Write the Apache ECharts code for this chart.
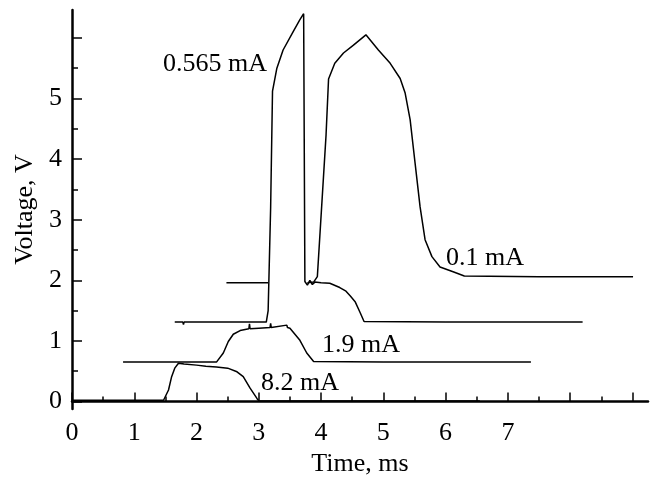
<!DOCTYPE html>
<html>
<head>
<meta charset="UTF-8">
<title>Voltage vs time</title>
<script src="https://cdn.jsdelivr.net/npm/echarts@6/dist/echarts.min.js"></script>
<style>
  html,body{margin:0;padding:0;background:#fff;}
  #main{width:650px;height:477px;}
</style>
</head>
<body>
<div id="main"></div>
<script>
// traces: time (ms) and voltage (V)
var t82 = [0, 0.03, 0.05, 0.6, 1.0, 1.47, 1.55, 1.6, 1.65, 1.71, 1.8, 2.0, 2.15, 2.32, 2.5, 2.65, 2.75, 2.86, 2.97, 3.0, 4.0, 5.0, 6.55];
var v82 = [0.02, 0.05, 0.02, 0.02, 0.02, 0.02, 0.19, 0.41, 0.55, 0.63, 0.62, 0.6, 0.58, 0.57, 0.55, 0.49, 0.41, 0.22, 0.05, 0.01, 0.01, 0.01, 0.01];

var t19 = [0.82, 1.5, 2.0, 2.32, 2.43, 2.51, 2.59, 2.7, 2.84, 2.85, 2.86, 3.0, 3.18, 3.19, 3.2, 3.45, 3.46, 3.5, 3.66, 3.77, 3.88, 5.0, 6.0, 7.37];
var v19 = [0.65, 0.65, 0.65, 0.65, 0.8, 0.99, 1.11, 1.17, 1.2, 1.28, 1.2, 1.21, 1.22, 1.29, 1.22, 1.26, 1.22, 1.21, 1.01, 0.8, 0.66, 0.65, 0.65, 0.65];

var t0565 = [1.65, 1.78, 1.79, 1.8, 3.12, 3.15, 3.19, 3.22, 3.29, 3.39, 3.55, 3.66, 3.72, 3.73, 3.74, 3.78, 3.82, 3.86, 3.9, 4.0, 4.14, 4.3, 4.4, 4.47, 4.55, 4.63, 4.69, 6.0, 8.2];
var v0565 = [1.31, 1.31, 1.27, 1.31, 1.31, 1.5, 3.2, 5.12, 5.5, 5.8, 6.1, 6.3, 6.4, 6.4, 1.98, 1.92, 2.0, 1.93, 1.97, 1.96, 1.95, 1.88, 1.82, 1.74, 1.64, 1.46, 1.32, 1.31, 1.31];

var t01 = [2.48, 3.15, 3.4, 3.78, 3.88, 3.94, 4.08, 4.12, 4.22, 4.36, 4.52, 4.72, 4.92, 5.11, 5.27, 5.35, 5.43, 5.51, 5.59, 5.67, 5.78, 5.91, 6.12, 6.3, 7.5, 9.01];
var v01 = [1.96, 1.96, null, 1.96, 1.97, 2.06, 4.4, 5.32, 5.58, 5.75, 5.88, 6.05, 5.8, 5.58, 5.33, 5.09, 4.65, 3.93, 3.21, 2.67, 2.39, 2.22, 2.14, 2.07, 2.06, 2.06];

var traceNames = ['8.2 mA', '1.9 mA', '0.565 mA', '0.1 mA'];
var xMajor = [0, 1, 2, 3, 4, 5, 6, 7, 8, 9];
var xMinor = [0.5, 1.5, 2.5, 3.5, 4.5, 5.5, 6.5, 7.5, 8.5];
var xLabels = [0, 1, 2, 3, 4, 5, 6, 7];
var yMajor = [0, 1, 2, 3, 4, 5, 6];
var yMinor = [0.5, 1.5, 2.5, 3.5, 4.5, 5.5];
var yLabels = [0, 1, 2, 3, 4, 5];

function pairs(t, v) {
  var out = [];
  for (var i = 0; i < t.length; i++) out.push([t[i], v[i] == null ? '-' : v[i]]);
  return out;
}

var font = 'Liberation Serif';
var fs = 26;
var traces = [pairs(t82, v82), pairs(t19, v19), pairs(t0565, v0565), pairs(t01, v01)];

var myChart = echarts.init(document.getElementById('main'));
var option = {
  animation: false,
  backgroundColor: '#fff',
  grid: {left: 72, right: 2, top: 10, bottom: 68, containLabel: false, outerBoundsMode: 'none'},
  xAxis: [{
    type: 'value', min: 0, max: 9.25,
    name: 'Time, ms', nameLocation: 'middle', nameGap: 42,
    nameTextStyle: {fontFamily: font, fontSize: fs, color: '#000'},
    axisLine: {lineStyle: {color: '#000', width: 2.5}},
    axisTick: {inside: true, length: 9, customValues: xMajor, lineStyle: {color: '#000', width: 1.5}},
    axisLabel: {customValues: xLabels, margin: 11, fontFamily: font, fontSize: fs, color: '#000'},
    splitLine: {show: false}
  }, {
    type: 'value', min: 0, max: 9.25, position: 'bottom',
    axisLine: {show: false},
    axisTick: {inside: true, length: 5, customValues: xMinor, lineStyle: {color: '#000', width: 1.5}},
    axisLabel: {show: false},
    splitLine: {show: false}
  }],
  yAxis: [{
    type: 'value', min: -0.124, max: 6.46,
    name: 'Voltage, V', nameLocation: 'middle', nameGap: 34,
    nameTextStyle: {fontFamily: font, fontSize: fs, color: '#000'},
    axisLine: {lineStyle: {color: '#000', width: 2.5}},
    axisTick: {inside: true, length: 10, customValues: yMajor, lineStyle: {color: '#000', width: 1.5}},
    axisLabel: {customValues: yLabels, margin: 10, fontFamily: font, fontSize: fs, color: '#000'},
    splitLine: {show: false}
  }, {
    type: 'value', min: -0.124, max: 6.46, position: 'left',
    axisLine: {show: false},
    axisTick: {inside: true, length: 6, customValues: yMinor, lineStyle: {color: '#000', width: 1.5}},
    axisLabel: {show: false},
    splitLine: {show: false}
  }],
  series: traces.map(function (d, i) {
    return {
      name: traceNames[i], type: 'line', data: d,
      showSymbol: false, connectNulls: false,
      lineStyle: {color: '#000', width: 1.5}
    };
  }),
  graphic: [
    {type: 'text', x: 215, y: 64, style: {text: '0.565 mA', font: fs + 'px "Liberation Serif"', fill: '#000', textAlign: 'center', textVerticalAlign: 'middle'}},
    {type: 'text', x: 485, y: 258, style: {text: '0.1 mA', font: fs + 'px "Liberation Serif"', fill: '#000', textAlign: 'center', textVerticalAlign: 'middle'}},
    {type: 'text', x: 361, y: 345, style: {text: '1.9 mA', font: fs + 'px "Liberation Serif"', fill: '#000', textAlign: 'center', textVerticalAlign: 'middle'}},
    {type: 'text', x: 300, y: 383, style: {text: '8.2 mA', font: fs + 'px "Liberation Serif"', fill: '#000', textAlign: 'center', textVerticalAlign: 'middle'}}
  ]
};
myChart.setOption(option);
</script>
</body>
</html>
